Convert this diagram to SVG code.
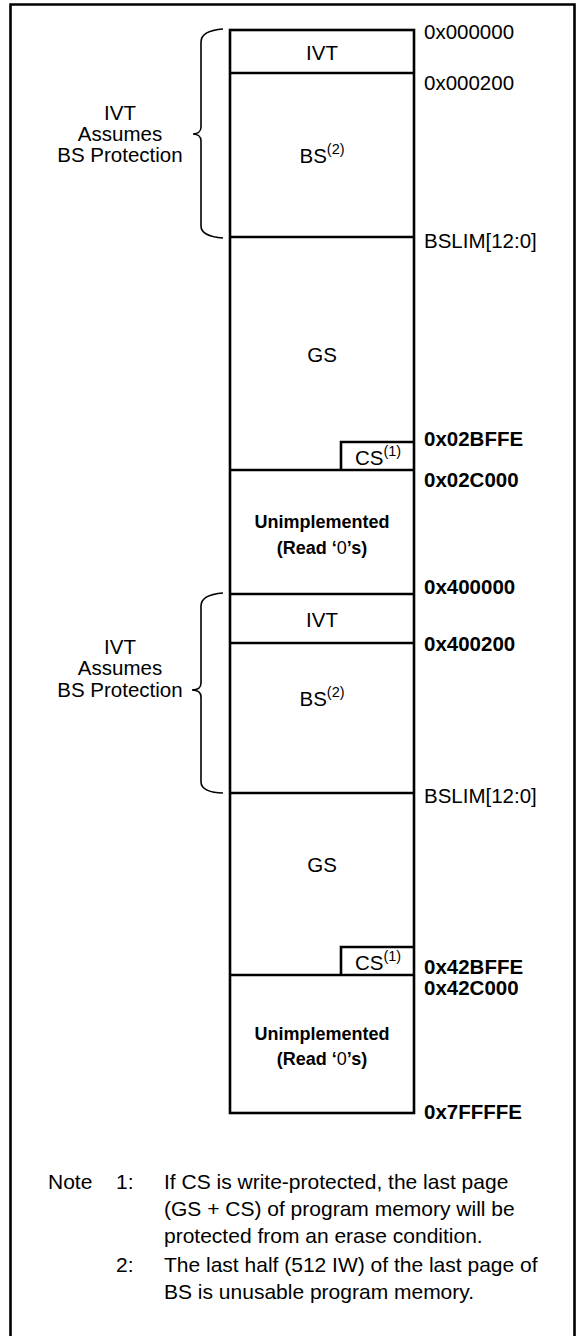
<svg xmlns="http://www.w3.org/2000/svg" width="576" height="1336" viewBox="0 0 576 1336">
<style>
text{font-family:"Liberation Sans",Arial,sans-serif;fill:#000}
.t{font-size:20.5px}
.c{text-anchor:middle}
.b{font-weight:bold}
.u{font-size:18px;font-weight:bold;text-anchor:middle}
.n{font-size:21px}
.sup{font-size:14.5px}
.box{fill:none;stroke:#000;stroke-width:2.6}
.ln{stroke:#000;stroke-width:2.6}
.br{fill:none;stroke:#000;stroke-width:1.6}
</style>
<rect width="576" height="1336" fill="#fff"/>
<g id="frame"><path d="M10.5,1336 V4.5 H574.5 V1336" fill="none" stroke="#000" stroke-width="2.6"/></g>

<g id="memory-column">
<rect class="box" x="230" y="30" width="184" height="1083"/>
</g>
<g id="ivt1"><line class="ln" x1="230" y1="73" x2="414" y2="73"/><text class="t c" x="322" y="60">IVT</text></g>
<g id="bs1"><line class="ln" x1="230" y1="237" x2="414" y2="237"/><text class="t c" x="322" y="163">BS<tspan class="sup" dy="-9">(2)</tspan></text></g>
<g id="gs1"><text class="t c" x="322" y="362">GS</text></g>
<g id="cs1"><path class="box" d="M414,442 H341 V470"/><text class="t c" x="378" y="465">CS<tspan class="sup" dy="-9">(1)</tspan></text></g>
<g id="unimpl1"><line class="ln" x1="230" y1="470" x2="414" y2="470"/><text class="u" x="322" y="528">Unimplemented</text><text class="u" x="322" y="554">(Read ‘<tspan font-weight="normal">0</tspan>’s)</text></g>
<g id="ivt2"><line class="ln" x1="230" y1="594" x2="414" y2="594"/><line class="ln" x1="230" y1="643" x2="414" y2="643"/><text class="t c" x="322" y="627">IVT</text></g>
<g id="bs2"><line class="ln" x1="230" y1="793" x2="414" y2="793"/><text class="t c" x="322" y="706">BS<tspan class="sup" dy="-9">(2)</tspan></text></g>
<g id="gs2"><text class="t c" x="322" y="872">GS</text></g>
<g id="cs2"><path class="box" d="M414,947 H341 V975"/><text class="t c" x="378" y="970">CS<tspan class="sup" dy="-9">(1)</tspan></text></g>
<g id="unimpl2"><line class="ln" x1="230" y1="975" x2="414" y2="975"/><text class="u" x="322" y="1040">Unimplemented</text><text class="u" x="322" y="1065">(Read ‘<tspan font-weight="normal">0</tspan>’s)</text></g>

<g id="addresses">
<text class="t" x="424" y="39">0x000000</text>
<text class="t" x="424" y="90">0x000200</text>
<text class="t" x="424" y="248">BSLIM[12:0]</text>
<text class="t b" x="424" y="446">0x02BFFE</text>
<text class="t b" x="424" y="487">0x02C000</text>
<text class="t b" x="424" y="594">0x400000</text>
<text class="t b" x="424" y="651">0x400200</text>
<text class="t" x="424" y="803">BSLIM[12:0]</text>
<text class="t b" x="424" y="974">0x42BFFE</text>
<text class="t b" x="424" y="995">0x42C000</text>
<text class="t b" x="424" y="1119">0x7FFFFE</text>
</g>

<g id="bs-protection-1">
<text class="t c" x="120" y="120">IVT</text>
<text class="t c" x="120" y="141">Assumes</text>
<text class="t c" x="120" y="162">BS Protection</text>
</g>
<g id="bs-protection-2">
<text class="t c" x="120" y="654">IVT</text>
<text class="t c" x="120" y="675">Assumes</text>
<text class="t c" x="120" y="697">BS Protection</text>
</g>

<g id="connectors">
<path class="br" d="M223,29 C210,30 201,33 201,42 V127 C201,132 197,134 193,134 C197,134 201,136 201,141 V226 C201,233 210,237 223,238"/>
<path class="br" d="M223,593 C210,594 201,597 201,606 V683 C201,688 197,690 192,690 C197,690 201,692 201,697 V782 C201,789 210,793 223,793"/>
</g>

<g id="notes">
<text class="n" x="48" y="1189">Note</text>
<text class="n" x="116" y="1189">1:</text>
<text class="n" x="164" y="1189">If CS is write-protected, the last page</text>
<text class="n" x="164" y="1216">(GS + CS) of program memory will be</text>
<text class="n" x="164" y="1243">protected from an erase condition.</text>
<text class="n" x="116" y="1272">2:</text>
<text class="n" x="164" y="1272">The last half (512 IW) of the last page of</text>
<text class="n" x="164" y="1299">BS is unusable program memory.</text>
</g>
</svg>
